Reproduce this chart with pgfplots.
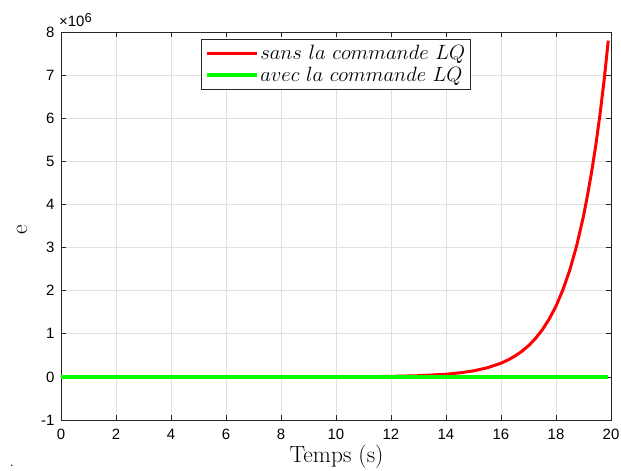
\documentclass[border=0pt]{standalone}
\usepackage{fontspec}
\usepackage{pgfplots}
\pgfplotsset{compat=1.18}
\newfontfamily\ticksfont{Liberation Sans}
\definecolor{axgray}{gray}{0.15}
\definecolor{gridgray}{gray}{0.88}
\pgfplotstableread{
t e
0 0.64
2 3.3
4 17
6 88
8 450
10 2320
11 5280
12 12000
13 27200
14 61800
14.5 93000
15 140000
15.5 211000
16 318000
16.25 391000
16.5 480000
16.75 589000
17 723000
17.25 888000
17.5 1090000
17.75 1340000
18 1640000
18.25 2020000
18.5 2475000
18.75 3040000
19 3730000
19.15 4230000
19.3 4770000
19.45 5390000
19.6 6090000
19.75 6880000
19.9 7800000
}\sansLQ
\pgfplotstableread{
t e
0 0
5 0
10 0
15 0
19.9 0
}\avecLQ
\begin{document}
\begin{tikzpicture}
\begin{axis}[
  name=ax,
  scale only axis,
  width=550bp, height=388bp,
  xmin=0, xmax=20, ymin=-1000000, ymax=8000000,
  xtick={0,2,...,20},
  ytick={-1000000,0,1000000,2000000,3000000,4000000,5000000,6000000,7000000,8000000},
  scaled y ticks=base 10:-6,
  ytick scale label code/.code={\ticksfont\fontsize{15}{16}\selectfont ×10\raisebox{0.55ex}{\fontsize{13}{14}\selectfont 6}},
  every y tick scale label/.style={at={(rel axis cs:0,1)},anchor=south west,inner sep=0pt,yshift=5bp,xshift=1bp},
  /pgf/number format/assume math mode=true,
  tick label style={font=\ticksfont\fontsize{15}{17}\selectfont, text=black},
  yticklabel style={xshift=-3bp},
  xticklabel style={yshift=-6bp},
  tick align=inside,
  major tick length=5bp,
  axis line style={axgray, line width=0.7pt},
  every tick/.style={axgray, line width=0.7pt},
  grid=major,
  major grid style={gridgray, line width=0.7pt},
  xlabel={Temps (s)},
  ylabel={e},
  label style={font=\fontsize{23.5}{26}\selectfont},
  xlabel style={at={(rel axis cs:0.501,0)}, anchor=base, yshift=-42bp},
  ylabel style={at={(rel axis cs:0,0.49)}, anchor=center, yshift=39bp},
  legend style={at={(rel axis cs:0.5,0.982)}, anchor=north, font=\fontsize{22}{24}\selectfont,
    draw=axgray, line width=0.7pt, inner xsep=3pt, inner ysep=4bp, row sep=2bp},
  legend cell align=left,
  legend image code/.code={\draw[#1] (0bp,0bp) -- (50bp,0bp);},
]
\addplot[red, line width=3pt] table[x=t,y=e] {\sansLQ};
\addlegendentry{$sans\ la\ commande\ LQ$}
\addplot[green, line width=3.5pt] table[x=t,y=e] {\avecLQ};
\addlegendentry{$avec\ la\ commande\ LQ$}
\end{axis}
\pgfresetboundingbox
\path ([shift={(-61bp,-51bp)}]ax.south west) rectangle ([shift={(10bp,32bp)}]ax.north east);
\node[anchor=base west, inner sep=0pt, font=\fontsize{18}{20}\selectfont] at ([shift={(-51.5bp,-46.5bp)}]ax.south west) {.};
\end{tikzpicture}
\end{document}
